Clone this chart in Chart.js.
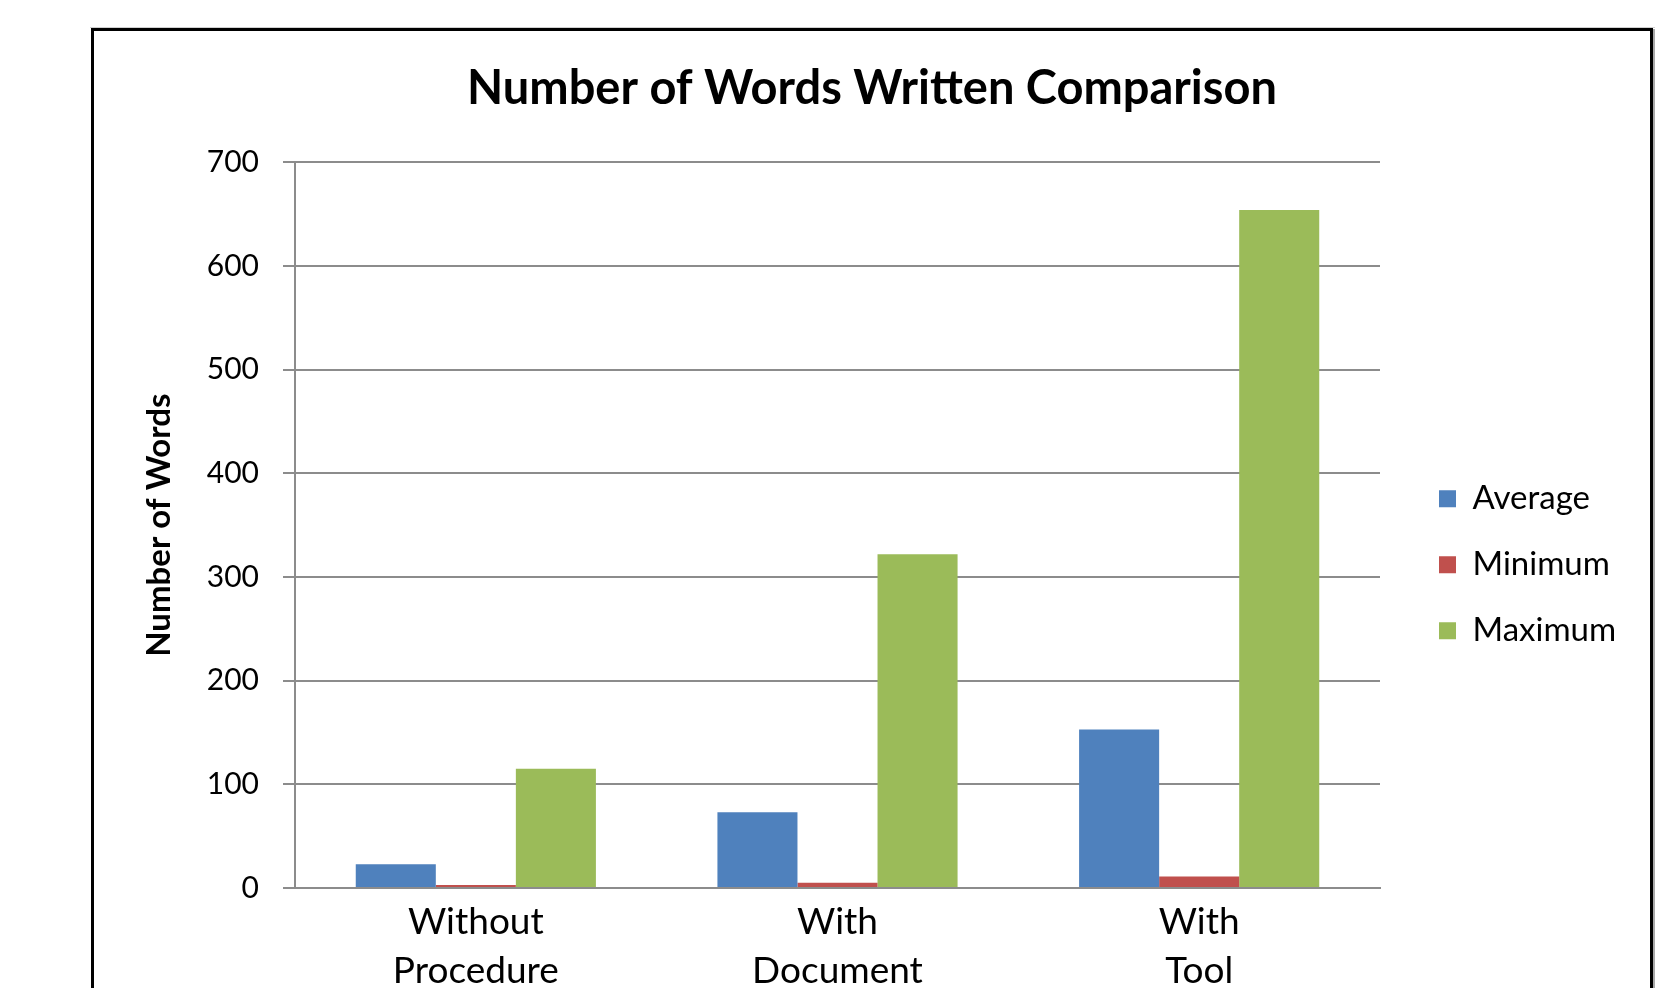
<!DOCTYPE html>
<html>
<head>
<meta charset="utf-8">
<script src="https://cdn.jsdelivr.net/npm/chart.js@4.4.1/dist/chart.umd.min.js"></script>
<style>
  html, body { margin: 0; padding: 0; background: #fff; overflow: hidden; }
  #c { display: block; }
</style>
</head>
<body>
<canvas id="c" width="1671" height="988"></canvas>
<script>
// ---- data ----
const categories = [['Without', 'Procedure'], ['With', 'Document'], ['With', 'Tool']];
const seriesNames = ['Average', 'Minimum', 'Maximum'];
const averageValues = [23, 73, 153];
const minimumValues = [3, 5, 11];
const maximumValues = [115, 322, 654];
const yTickMin = 0;
const yTickMax = 700;
const yTickStep = 100;

const FONT = 'Lato, "Open Sans", sans-serif';
const GRID = '#8c8c8c';

const framePlugin = {
  id: 'frame',
  beforeDraw(chart) {
    const ctx = chart.ctx;
    ctx.save();
    ctx.fillStyle = '#fff';
    ctx.fillRect(0, 0, chart.width, chart.height);
    ctx.fillStyle = '#d0d0d0';
    ctx.fillRect(90, 27, 1565, 1);
    ctx.fillStyle = '#000';
    ctx.fillRect(91, 28, 3, chart.height);
    ctx.fillRect(91, 28, 1562, 3);
    ctx.fillRect(1650, 28, 3, chart.height);
    ctx.fillStyle = '#a8a8a8';
    ctx.fillRect(1653, 29, 2, chart.height);
    ctx.restore();
  }
};

Chart.defaults.font.family = FONT;
Chart.defaults.color = '#000';

new Chart(document.getElementById('c'), {
  type: 'bar',
  data: {
    labels: categories,
    datasets: [
      { label: seriesNames[0], data: averageValues, backgroundColor: '#4F81BD' },
      { label: seriesNames[1], data: minimumValues, backgroundColor: '#C0504D' },
      { label: seriesNames[2], data: maximumValues, backgroundColor: '#9BBB59' }
    ]
  },
  options: {
    responsive: false,
    animation: false,
    devicePixelRatio: 1,
    layout: { padding: { left: 92, right: 19, top: 30, bottom: 0 } },
    datasets: { bar: { categoryPercentage: 0.664, barPercentage: 1.0 } },
    plugins: {
      tooltip: { enabled: false },
      title: {
        display: true,
        text: 'Number of Words Written Comparison',
        font: { family: FONT, size: 47, weight: 'bold', lineHeight: 1.2 },
        color: '#000',
        padding: { top: 31, bottom: 45 }
      },
      legend: {
        position: 'right',
        fullSize: false,
        title: { display: true, text: '', font: { size: 10, lineHeight: 1 }, padding: { top: 69, bottom: 0 } },
        labels: {
          font: { family: FONT, size: 33 },
          color: '#000',
          boxWidth: 17,
          boxHeight: 17,
          padding: 33
        }
      }
    },
    scales: {
      x: {
        grid: { display: false, drawTicks: false },
        border: { display: true, color: GRID, width: 2 },
        ticks: { font: { family: FONT, size: 37, lineHeight: 1.324 }, padding: 10, color: '#000', maxRotation: 0, autoSkip: false },
        afterFit(s) { s.height = 100; }
      },
      y: {
        min: yTickMin,
        max: yTickMax,
        ticks: { stepSize: yTickStep, font: { family: FONT, size: 30 }, padding: 24, color: '#000' },
        grid: { color: GRID, lineWidth: 2, tickLength: 12, tickColor: GRID, drawTicks: true },
        border: { display: true, color: GRID, width: 2 },
        title: {
          display: true,
          text: 'Number of Words',
          font: { family: FONT, size: 33, weight: 'bold', lineHeight: 1.2 },
          color: '#000',
          padding: { top: 48, bottom: 0 }
        },
        afterFit(s) { s.width = 203; }
      },
      gapInner: {
        type: 'linear', position: 'right', weight: 0, display: false,
        afterFit(s) { s.width = 26; }
      },
      gapOuter: {
        type: 'linear', position: 'right', weight: 2000, display: false,
        afterFit(s) {
          const lg = s.chart.legend;
          const lw = lg ? lg.width : 0;
          s.width = Math.max(0, 246 - lw);
        }
      }
    }
  },
  plugins: [framePlugin]
});
</script>
</body>
</html>
